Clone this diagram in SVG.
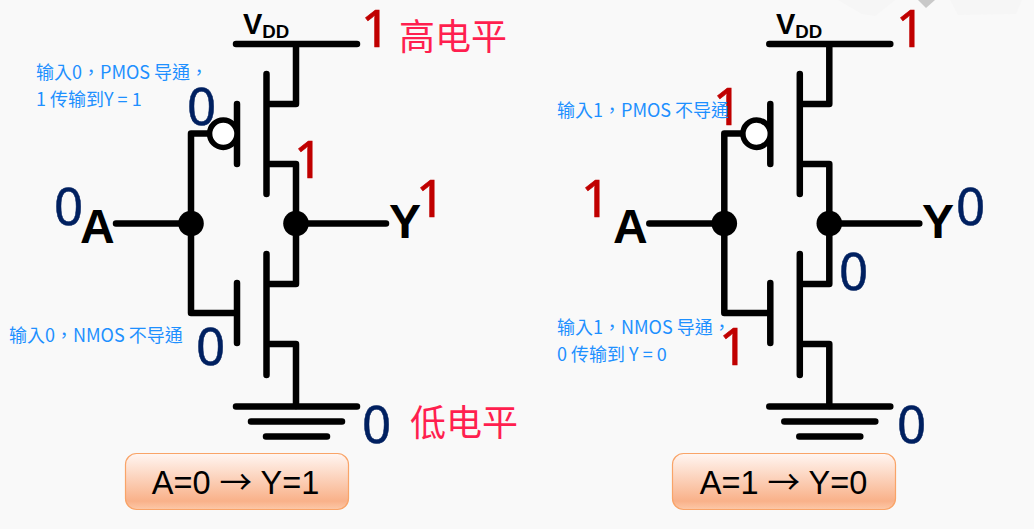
<svg xmlns="http://www.w3.org/2000/svg" width="1034" height="529" viewBox="0 0 1034 529">
<style>
.w{fill:none;stroke:#000;stroke-width:6.500;stroke-linecap:round;stroke-linejoin:round}
.dot{fill:#000}
.bub{fill:#fff;stroke:#000;stroke-width:5.500}
.vdd{font-family:"Liberation Sans",Arial,sans-serif;font-weight:700;fill:#000}
.pin{font-family:"Liberation Sans",Arial,sans-serif;font-weight:700;font-size:48px;fill:#000}
.r{font-family:"Noto Sans",sans-serif;font-size:51px;fill:#c00000;stroke:#c00000;stroke-width:.7}
.b{font-family:"Noto Sans",sans-serif;font-size:51px;fill:#002060;stroke:#002060;stroke-width:.5}
.note{font-family:"Noto Sans CJK TC","Noto Sans CJK SC",sans-serif;font-size:18px;fill:#1e90ff}
.lvl{font-family:"Noto Sans CJK SC","Noto Sans",sans-serif;font-size:36px;fill:#ff1f4f}
.box{fill:url(#g);stroke:#f9a468;stroke-width:1.200}
.res{font-family:"Liberation Sans",Arial,sans-serif;font-size:32.500px;fill:#000;text-anchor:middle}
.arr{font-family:"Noto Sans CJK SC",sans-serif}
.faint{fill:#f6f6f6}
</style>
<defs>
<linearGradient id="g" x1="0" y1="0" x2="0" y2="1">
<stop offset="0" stop-color="#fff6f2"/><stop offset="0.85" stop-color="#f9b189"/><stop offset="1" stop-color="#fcc8a8"/>
</linearGradient>
<g id="inv">
<path class="w" d="M236 44H357M296 44V104H267M266.500 74V194M296 164H267M296 164V284H267M266.500 254V375M296 344H267M296 344V406"/>
<path class="w" d="M237 104V164M191 133.500H210M191 133.500V313H237M116 223.500H191M296 223.500H386M237 283V343"/>
<path class="w" d="M236 406.500H357M251 421.500H342M266 436.500H327"/>
<circle class="bub" cx="223.300" cy="133.700" r="13.700"/>
<circle class="dot" cx="191" cy="223.500" r="12.800"/>
<circle class="dot" cx="296" cy="223.500" r="12.800"/>
</g>
</defs>
<rect width="1034" height="529" fill="#f9f9f9"/>
<g id="backdrop">
<polygon class="faint" points="838,0 895,0 875,16 862,14"/>
<polygon class="faint" points="950,0 1022,0 1016,14 958,15"/>
<polygon points="918,0 935,0 926,8" fill="#c9c9c9"/>
</g>
<g id="connectors"><use href="#inv"/></g>
<g id="connectors-right"><use href="#inv" x="533.300"/></g>
<g id="left-labels">
<text class="vdd" x="243" y="33.500" font-size="29">V<tspan font-size="18.700" dy="4">DD</tspan></text>
<text class="pin" x="80" y="243">A</text>
<text class="pin" x="389" y="238">Y</text>
<text class="r" x="361" y="47">1</text>
<text class="r" x="294" y="178">1</text>
<text class="r" x="416" y="217">1</text>
<text class="b" x="187" y="125">0</text>
<text class="b" x="54" y="225">0</text>
<text class="b" x="196" y="365">0</text>
<text class="b" x="362" y="443">0</text>
<text class="lvl" x="399" y="50">高电平</text>
<text class="lvl" x="410" y="436">低电平</text>
<text class="note" x="36" y="79">输入0，PMOS 导通，</text>
<text class="note" x="36" y="106">1 传输到Y = 1</text>
<text class="note" x="9" y="342">输入0，NMOS 不导通</text>
</g>
<g id="right-labels">
<text class="vdd" x="776" y="33.500" font-size="29">V<tspan font-size="18.700" dy="4">DD</tspan></text>
<text class="pin" x="613" y="243">A</text>
<text class="pin" x="922" y="238">Y</text>
<text class="r" x="896" y="47">1</text>
<text class="r" x="713" y="125">1</text>
<text class="r" x="581" y="217">1</text>
<text class="r" x="719" y="365">1</text>
<text class="b" x="956" y="225">0</text>
<text class="b" x="839" y="290">0</text>
<text class="b" x="897" y="443">0</text>
<text class="note" x="557" y="117">输入1，PMOS 不导通</text>
<text class="note" x="557" y="334">输入1，NMOS 导通，</text>
<text class="note" x="557" y="361">0 传输到 Y = 0</text>
</g>
<g id="result-left">
<rect class="box" x="125.500" y="453.500" width="223" height="56" rx="11"/>
<text class="res" x="235.500" y="494">A=0 <tspan class="arr">→</tspan> Y=1</text>
</g>
<g id="result-right">
<rect class="box" x="672.500" y="453.500" width="223" height="56" rx="11"/>
<text class="res" x="783.500" y="494">A=1 <tspan class="arr">→</tspan> Y=0</text>
</g>
</svg>
